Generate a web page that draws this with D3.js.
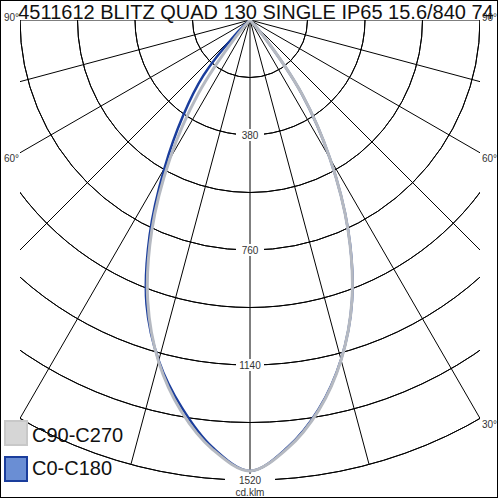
<!DOCTYPE html>
<html>
<head>
<meta charset="utf-8">
<script src="https://cdn.jsdelivr.net/npm/d3@7"></script>
<style>
  body { margin: 0; background: #fff; }
  text { font-family: "Liberation Sans", Arial, sans-serif; }
</style>
</head>
<body>
<svg id="drawing_region"></svg>
<script>
// gamma angles (deg from nadir) and intensities in cd/klm
const gammas = [0, 5, 10, 15, 20, 25, 30, 35, 40, 45, 50, 55, 60, 65, 70, 75, 80, 85, 90];
const c0   = [1488, 1418, 1306, 1162, 986, 768, 528, 300, 68, 0, 0, 0, 0, 0, 0, 0, 0, 0, 0];
const c180 = [1490, 1418, 1300, 1165, 1000, 785, 565, 385, 240, 70, 0, 0, 0, 0, 0, 0, 0, 0, 0];
const c90  = [1490, 1421, 1309, 1163, 985, 767, 529, 302, 70, 0, 0, 0, 0, 0, 0, 0, 0, 0, 0];
const c270 = [1490, 1424, 1312, 1168, 988, 768, 530, 300, 72, 0, 0, 0, 0, 0, 0, 0, 0, 0, 0];

const ringValues = [190, 380, 570, 760, 950, 1140, 1330, 1520];
const ringLabels = [380, 760, 1140, 1520];
const spokeAngles = [0, 15, 30, 45, 60, 75, 90];
const angleLabels = [30, 60, 90];

const legendNames = ["C90-C270", "C0-C180"];

const config = {
    width: 500,
    height: 500,
    cx: 250,
    cy: 20,
    maxR: 460,
    box: {x0: 20, y0: 20, x1: 480, y1: 480}
};

const svg = d3.select('#drawing_region')
    .attr('width', config.width)
    .attr('height', config.height);

const rscale = d3.scaleLinear()
    .domain([0, 1520])
    .range([0, config.maxR]);

const rad = d => d * Math.PI / 180;

svg.append('defs').append('clipPath')
    .attr('id', 'plotclip')
    .append('rect')
    .attr('x', config.box.x0)
    .attr('y', config.box.y0)
    .attr('width', config.box.x1 - config.box.x0)
    .attr('height', config.box.y1 - config.box.y0);

// outer frame
svg.append('rect')
    .attr('x', 0.5).attr('y', 0.5)
    .attr('width', 497).attr('height', 497)
    .attr('fill', 'none')
    .attr('stroke', '#000');

const grid = svg.append('g')
    .attr('clip-path', 'url(#plotclip)');

const center = grid.append('g')
    .attr('transform', `translate(${config.cx}, ${config.cy})`);

// rings: lower half circles
const arc = d3.arc()
    .startAngle(Math.PI / 2)
    .endAngle(Math.PI * 3 / 2);

center.selectAll('.ring')
    .data(ringValues)
    .enter()
    .append('path')
    .attr('class', 'ring')
    .attr('d', d => arc({innerRadius: rscale(d), outerRadius: rscale(d)}))
    .attr('fill', 'none')
    .attr('stroke', '#000')
    .attr('stroke-width', 1);

// spokes on both sides
const spokes = [];
spokeAngles.forEach(a => {
    spokes.push({a: a, side: 1});
    if (a > 0) spokes.push({a: a, side: -1});
});

center.selectAll('.spoke')
    .data(spokes)
    .enter()
    .append('line')
    .attr('class', 'spoke')
    .attr('x1', 0).attr('y1', 0)
    .attr('x2', d => d.side * config.maxR * Math.sin(rad(d.a)))
    .attr('y2', d => config.maxR * Math.cos(rad(d.a)))
    .attr('stroke', '#000')
    .attr('stroke-width', 1);

// angle labels where spokes leave the plot box
function spokeEnd(a, side) {
    const s = Math.sin(rad(a)), c = Math.cos(rad(a));
    let t = config.maxR;
    if (s > 1e-6) t = Math.min(t, (config.cx - config.box.x0) / s);
    if (c > 1e-6) t = Math.min(t, (config.box.y1 - config.cy) / c);
    return [config.cx + side * t * s, config.cy + t * c];
}

const angleLabelData = [];
angleLabels.forEach(a => {
    angleLabelData.push({a: a, side: -1});
    angleLabelData.push({a: a, side: 1});
});

svg.append('g').selectAll('text')
    .data(angleLabelData)
    .enter()
    .append('text')
    .attr('x', d => spokeEnd(d.a, d.side)[0] + (d.side < 0 ? -1 : 2))
    .attr('y', d => spokeEnd(d.a, d.side)[1] + (d.a === 90 ? 1 : 9.5))
    .attr('text-anchor', d => d.side < 0 ? 'end' : 'start')
    .attr('font-size', '10px')
    .attr('fill', '#333')
    .text(d => d.a + '°');

// ring value labels on the nadir axis
const ringLabelGroup = svg.append('g');
ringLabelGroup.selectAll('rect')
    .data(ringLabels)
    .enter()
    .append('rect')
    .attr('x', d => config.cx - (d === 1520 ? 25 : 14))
    .attr('y', d => config.cy + rscale(d) - 6)
    .attr('width', d => d === 1520 ? 50 : 28)
    .attr('height', 12)
    .attr('fill', '#fff');

ringLabelGroup.selectAll('text')
    .data(ringLabels)
    .enter()
    .append('text')
    .attr('x', config.cx)
    .attr('y', d => config.cy + rscale(d) + 3.5)
    .attr('text-anchor', 'middle')
    .attr('font-size', '10px')
    .attr('fill', '#333')
    .text(d => d);

svg.append('text')
    .attr('x', config.cx)
    .attr('y', 496)
    .attr('text-anchor', 'middle')
    .attr('font-size', '10px')
    .attr('fill', '#333')
    .text('cd.klm');

// distribution curves: left half (C180/C270) then right half (C0/C90)
function fullCurve(left, right) {
    const pts = [];
    for (let i = gammas.length - 1; i >= 0; i--) pts.push({ang: Math.PI + rad(gammas[i]), v: left[i]});
    for (let i = 1; i < gammas.length; i++) pts.push({ang: Math.PI - rad(gammas[i]), v: right[i]});
    return pts;
}

const radial = d3.lineRadial()
    .angle(d => d.ang)
    .radius(d => rscale(d.v))
    .curve(d3.curveCatmullRom.alpha(0.5));

center.append('path')
    .attr('d', radial(fullCurve(c180, c0)))
    .attr('fill', 'none')
    .attr('stroke', '#1a3d9c')
    .attr('stroke-width', 2.5);

center.append('path')
    .attr('d', radial(fullCurve(c270, c90)))
    .attr('fill', 'none')
    .attr('stroke', '#b5b9c1')
    .attr('stroke-width', 3);

// legend
const legend = svg.append('g');
const legendStyle = [
    {fill: '#d6d6d6', stroke: '#c8c8c8'},
    {fill: '#6a8ed4', stroke: '#1a3d9c'}
];

legend.selectAll('rect')
    .data(legendNames)
    .enter()
    .append('rect')
    .attr('x', 5)
    .attr('y', (d, i) => 421 + i * 36)
    .attr('width', 22)
    .attr('height', 24)
    .attr('fill', (d, i) => legendStyle[i].fill)
    .attr('stroke', (d, i) => legendStyle[i].stroke)
    .attr('stroke-width', 2);

legend.selectAll('text')
    .data(legendNames)
    .enter()
    .append('text')
    .attr('x', 32)
    .attr('y', (d, i) => 442 + i * 33)
    .attr('font-size', '20px')
    .attr('fill', '#111')
    .text(d => d);

// title
svg.append('text')
    .attr('x', 256)
    .attr('y', 18.5)
    .attr('text-anchor', 'middle')
    .attr('font-size', '20px')
    .attr('fill', '#111')
    .text('4511612 BLITZ QUAD 130 SINGLE IP65 15.6/840 74');
</script>
</body>
</html>
